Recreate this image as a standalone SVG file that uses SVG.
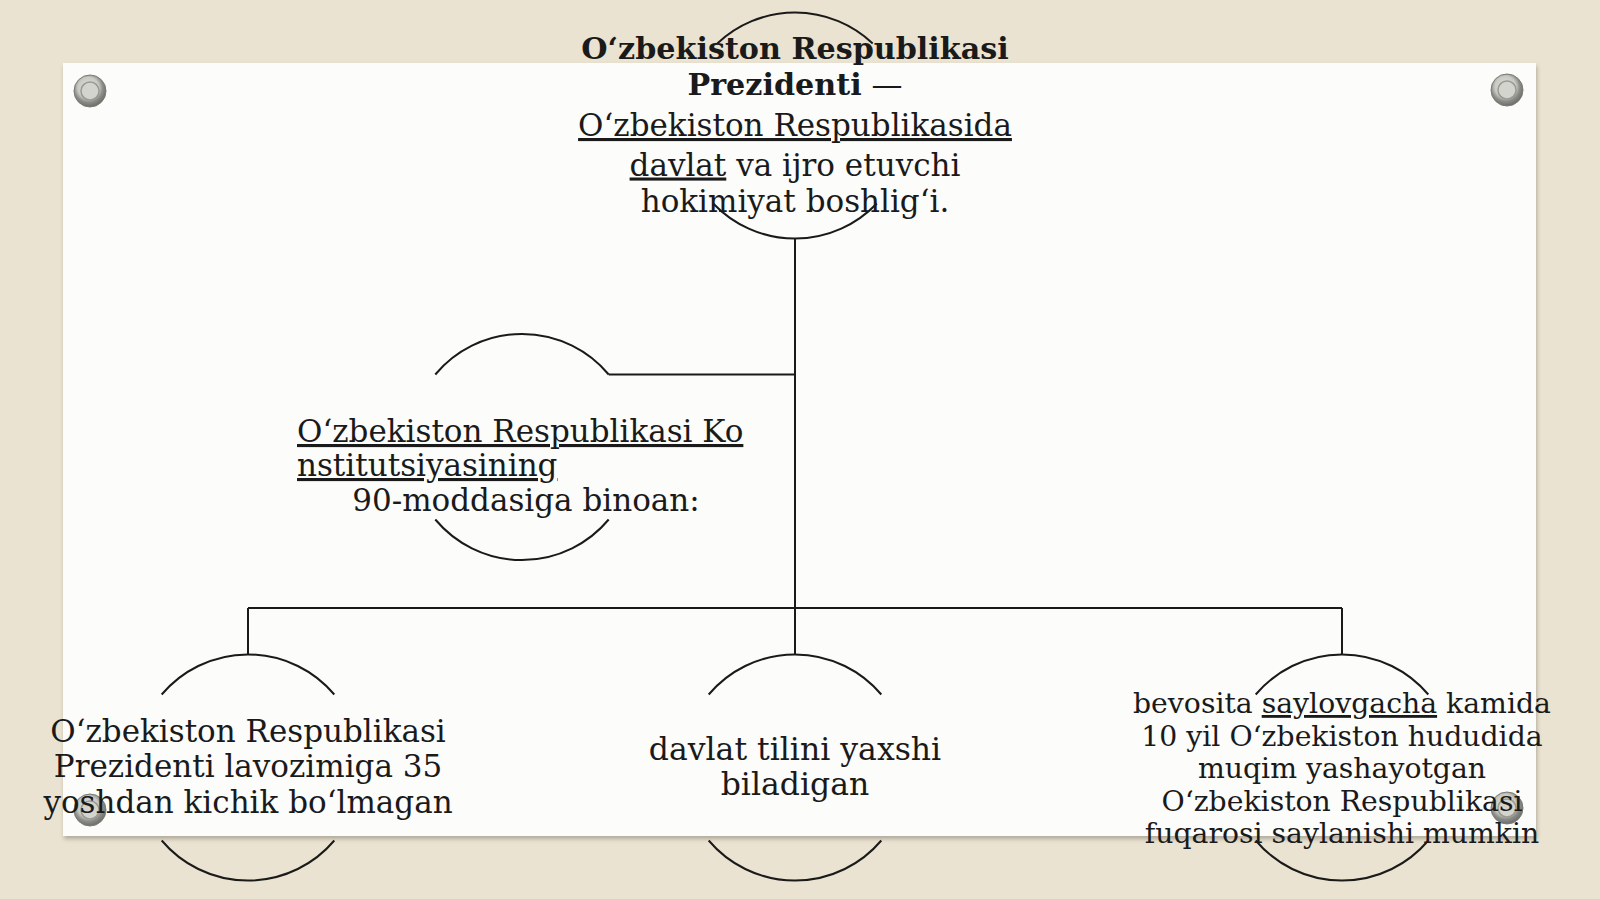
<svg xmlns="http://www.w3.org/2000/svg" width="1600" height="899" viewBox="0 0 1600 899">
<defs>
<radialGradient id="pinG" cx="0.45" cy="0.4" r="0.6">
<stop offset="0" stop-color="#e2e2dc"/>
<stop offset="0.55" stop-color="#c9c9c3"/>
<stop offset="0.75" stop-color="#8c8c88"/>
<stop offset="1" stop-color="#6c6c68"/>
</radialGradient>
<filter id="sh" x="-5%" y="-5%" width="110%" height="110%">
<feDropShadow dx="1" dy="3" stdDeviation="2" flood-color="#000" flood-opacity="0.25"/>
</filter>
</defs>
<style>
.ln{fill:none;stroke:#1a1a1a;stroke-width:2}
.t{font-family:"DejaVu Serif","Liberation Serif",serif;fill:#1a1a1a;font-size:31px}
.c{text-anchor:middle}
.b{font-weight:bold}
.u{text-decoration:underline}
.s{font-size:28.3px}
.m{font-size:31.5px}
.pin{fill:url(#pinG);stroke:#7a7a76;stroke-width:1}
.pinin{fill:#d4d4ce;stroke:#9a9a95;stroke-width:1.5}
</style>
<rect width="1600" height="899" fill="#ebe3d1"/>
<rect x="63" y="63" width="1473" height="773" fill="#fcfcfb" filter="url(#sh)"/>
<g id="pins">
<circle class="pin" cx="90" cy="91" r="16"/><circle class="pinin" cx="90" cy="91" r="9"/>
<circle class="pin" cx="1507" cy="90" r="16"/><circle class="pinin" cx="1507" cy="90" r="9"/>
<circle class="pin" cx="90" cy="810" r="16"/><circle class="pinin" cx="90" cy="810" r="9"/>
<circle class="pin" cx="1507" cy="808" r="16"/><circle class="pinin" cx="1507" cy="808" r="9"/>
</g>
<g id="connectors" class="ln">
<path d="M795 238.5V654.5"/>
<path d="M608.7 374.5H795"/>
<path d="M248 608H1342"/>
<path d="M248 608V654.5"/>
<path d="M1342 608V654.5"/>
</g>
<g id="node-top">
<path class="ln" d="M717.3 43.5A113 113 0 0 1 872.7 43.5"/>
<path class="ln" d="M713.2 203.5A113 113 0 0 0 876.8 203.5"/>
<text class="t c" x="795"><tspan class="b" x="795" y="59" font-size="30.2">O‘zbekiston Respublikasi</tspan><tspan x="795" y="95"><tspan class="b" font-size="30.2">Prezidenti</tspan> —</tspan><tspan x="795" y="136" class="u">O‘zbekiston Respublikasida</tspan><tspan x="795" y="175.5"><tspan class="u">davlat</tspan> va ijro etuvchi</tspan><tspan x="795" y="212">hokimiyat boshlig‘i.</tspan></text>
</g>
<g id="node-konst">
<path class="ln" d="M435.3 374.5A113 113 0 0 1 608.7 374.5"/>
<path class="ln" d="M435.3 519.5A113 113 0 0 0 608.7 519.5"/>
<text class="t"><tspan x="297" y="442" class="u">O‘zbekiston Respublikasi Ko</tspan><tspan x="297" y="476" class="u">nstitutsiyasining</tspan><tspan x="526" y="511" text-anchor="middle">90-moddasiga binoan:</tspan></text>
</g>
<g id="node-age">
<path class="ln" d="M161.7 694.5A113 113 0 0 1 334.3 694.5"/>
<path class="ln" d="M161.7 840.5A113 113 0 0 0 334.3 840.5"/>
<text class="t c"><tspan x="248" y="742">O‘zbekiston Respublikasi</tspan><tspan x="248" y="777">Prezidenti lavozimiga 35</tspan><tspan x="248" y="813">yoshdan kichik bo‘lmagan</tspan></text>
</g>
<g id="node-lang">
<path class="ln" d="M708.7 694.5A113 113 0 0 1 881.3 694.5"/>
<path class="ln" d="M708.7 840.5A113 113 0 0 0 881.3 840.5"/>
<text class="t c m"><tspan x="795" y="760">davlat tilini yaxshi</tspan><tspan x="795" y="795">biladigan</tspan></text>
</g>
<g id="node-resid">
<path class="ln" d="M1255.7 694.5A113 113 0 0 1 1428.3 694.5"/>
<path class="ln" d="M1255.7 840.5A113 113 0 0 0 1428.3 840.5"/>
<text class="t c s"><tspan x="1342" y="713">bevosita <tspan class="u">saylovgacha</tspan> kamida</tspan><tspan x="1342" y="746">10 yil O‘zbekiston hududida</tspan><tspan x="1342" y="778">muqim yashayotgan</tspan><tspan x="1342" y="811">O‘zbekiston Respublikasi</tspan><tspan x="1342" y="843">fuqarosi saylanishi mumkin</tspan></text>
</g>
</svg>
